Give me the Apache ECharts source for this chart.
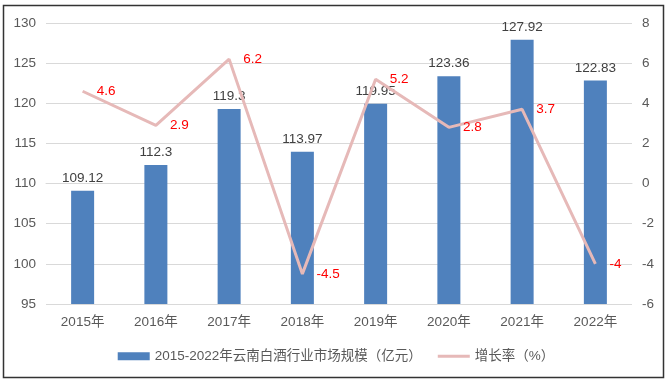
<!DOCTYPE html>
<html><head><meta charset="utf-8">
<script src="https://cdn.jsdelivr.net/npm/echarts@6/dist/echarts.min.js"></script>
<style>html,body{margin:0;padding:0;background:#fff}#c{width:672px;height:388px}</style>
</head><body><div id="c"></div>
<script>
const categories = ['2015年','2016年','2017年','2018年','2019年','2020年','2021年','2022年'];
const marketSize = [109.12, 112.3, 119.3, 113.97, 119.95, 123.36, 127.92, 122.83];
const growthRate = [4.6, 2.9, 6.2, -4.5, 5.2, 2.8, 3.7, -4];
const barName = '2015-2022年云南白酒行业市场规模（亿元）';
const lineName = '增长率（%）';
const FONT = 'Liberation Sans, Noto Sans CJK SC, sans-serif';
const chart = echarts.init(document.getElementById('c'));
chart.setOption({
  animation: false,
  textStyle: {fontFamily: FONT},
  graphic: [{type:'rect', shape:{x:3.5,y:5.5,width:660,height:372}, style:{fill:'none', stroke:'#333', lineWidth:1.5}, z:-1}],
  grid: {left: 46, right: 40, top: 23, bottom: 84},
  legend: {
    bottom: 20, left: 'center', itemGap: 16, itemWidth: 32, itemHeight: 8,
    textStyle: {color:'#595959', fontSize: 13.5, fontFamily: FONT},
    data: [{name: barName, icon: 'rect'}, {name: lineName, icon: 'path://M0,0h32v3h-32z', itemStyle:{color:'#e6b9b8'}}]
  },
  xAxis: {
    type: 'category', data: categories,
    axisLine: {lineStyle:{color:'#d9d9d9'}}, axisTick: {show:false},
    axisLabel: {color:'#595959', fontSize: 13.5, margin: 12}
  },
  yAxis: [
    {type:'value', min:95, max:130, interval:5,
     axisLine:{show:false}, axisTick:{show:false},
     axisLabel:{color:'#595959', fontSize:13.5, margin:10},
     splitLine:{lineStyle:{color:'#d9d9d9', width:1}}},
    {type:'value', min:-6, max:8, interval:2,
     axisLine:{show:false}, axisTick:{show:false},
     axisLabel:{color:'#595959', fontSize:13.5, margin:10},
     splitLine:{show:false}}
  ],
  series: [
    {name: barName, type:'bar', data: marketSize, barWidth: 23,
     itemStyle:{color:'#4f81bd'},
     label:{show:true, position:'top', color:'#404040', fontSize:13.5, distance:6}},
    {name: lineName, type:'line', yAxisIndex:1, data: growthRate, z: 5,
     symbol:'circle', symbolSize: 0.1, lineStyle:{color:'#e6b9b8', width:3},
     itemStyle:{color:'#e6b9b8'},
     label:{show:true, position:'right', distance:14, color:'#ff0000', fontSize:13.5}}
  ]
});
</script></body></html>
